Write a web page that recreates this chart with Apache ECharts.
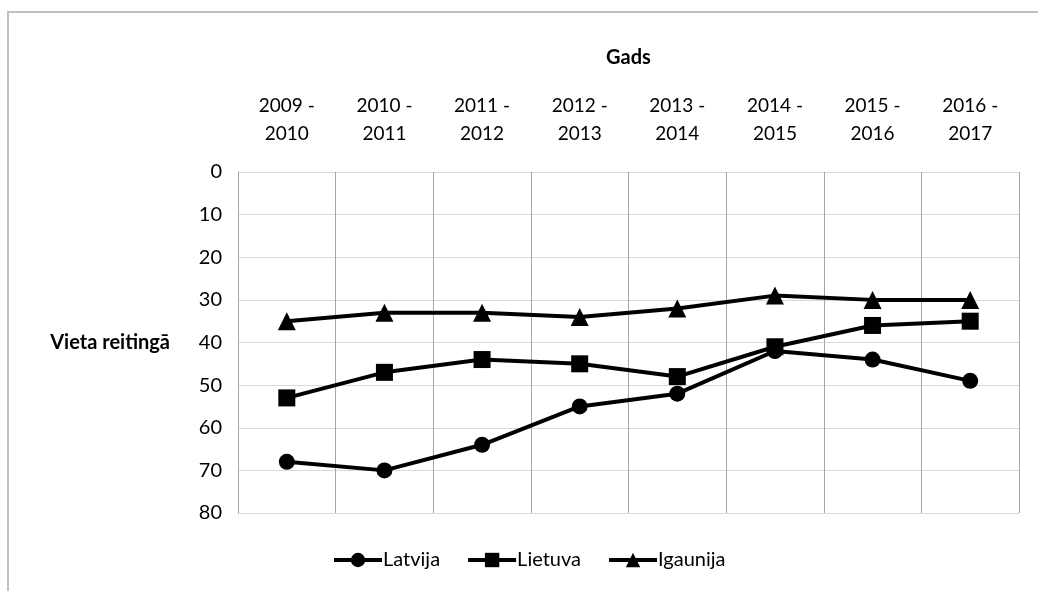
<!DOCTYPE html>
<html>
<head>
<meta charset="utf-8">
<script src="https://cdn.jsdelivr.net/npm/echarts@6/dist/echarts.min.js"></script>
<style>
  html, body { margin: 0; padding: 0; background: #fff; overflow: hidden; }
  .frame {
    position: absolute;
    left: 7px;
    top: 11px;
    width: 1100px;
    height: 700px;
    border-left: 2px solid #c0c0c0;
    border-top: 2px solid #c0c0c0;
  }
  #chart { position: absolute; left: 0; top: 0; width: 1038px; height: 591px; }
</style>
</head>
<body>
<div class="frame"></div>
<div id="chart"></div>
<script>
  // mācību gadi
  const seasons = ['2009 -\n2010', '2010 -\n2011', '2011 -\n2012', '2012 -\n2013',
    '2013 -\n2014', '2014 -\n2015', '2015 -\n2016', '2016 -\n2017']
  const latvija = [68, 70, 64, 55, 52, 42, 44, 49]
  const lietuva = [53, 47, 44, 45, 48, 41, 36, 35]
  const igaunija = [35, 33, 33, 34, 32, 29, 30, 30]
  const yTicks = [0, 80, 10] // min, max, solis

  const font = 'Lato, "Open Sans", sans-serif'

  const myChart = echarts.init(document.getElementById('chart'))

  function makeLine(name, data, symbol, size) {
    return {
      name: name,
      type: 'line',
      data: data,
      symbol: symbol,
      symbolSize: size,
      showAllSymbol: true,
      lineStyle: { color: '#000', width: 4 },
      itemStyle: { color: '#000' },
      emphasis: { disabled: true }
    }
  }

  const option = {
    backgroundColor: 'transparent',
    animation: false,
    grid: { left: 238, right: 19, top: 172, bottom: 78 },
    xAxis: {
      type: 'category',
      position: 'top',
      data: seasons,
      boundaryGap: true,
      name: 'Gads',
      nameLocation: 'middle',
      nameGap: 104,
      nameTextStyle: { fontFamily: font, fontWeight: 'bold', fontSize: 20, color: '#000' },
      axisLine: { show: false },
      axisTick: { show: false },
      axisLabel: {
        interval: 0,
        margin: 24,
        fontFamily: font,
        fontSize: 19,
        lineHeight: 28,
        color: '#000'
      },
      splitLine: { show: true, lineStyle: { color: '#a6a6a6', width: 1 } }
    },
    yAxis: {
      type: 'value',
      inverse: true,
      min: yTicks[0],
      max: yTicks[1],
      interval: yTicks[2],
      name: 'Vieta reitingā',
      nameLocation: 'middle',
      nameRotate: 0,
      nameGap: 68,
      nameTextStyle: { fontFamily: font, fontWeight: 'bold', fontSize: 20, color: '#000', align: 'right' },
      axisLine: { show: true, lineStyle: { color: '#a6a6a6', width: 1 } },
      axisTick: { show: false },
      axisLabel: { margin: 16, fontFamily: font, fontSize: 20, color: '#000' },
      splitLine: { show: true, lineStyle: { color: '#d9d9d9', width: 1 } }
    },
    legend: {
      bottom: 16,
      left: 327,
      itemGap: 26,
      itemWidth: 48,
      itemHeight: 18,
      lineStyle: { width: 4, color: '#000' },
      textStyle: { fontFamily: font, fontSize: 20, color: '#000', padding: [0, 0, 0, -4] },
      data: ['Latvija', 'Lietuva', 'Igaunija']
    },
    series: [
      makeLine('Latvija', latvija, 'circle', 16),
      makeLine('Lietuva', lietuva, 'rect', 17),
      makeLine('Igaunija', igaunija, 'triangle', 18)
    ]
  }

  myChart.setOption(option)
  window.onresize = myChart.resize
</script>
</body>
</html>
